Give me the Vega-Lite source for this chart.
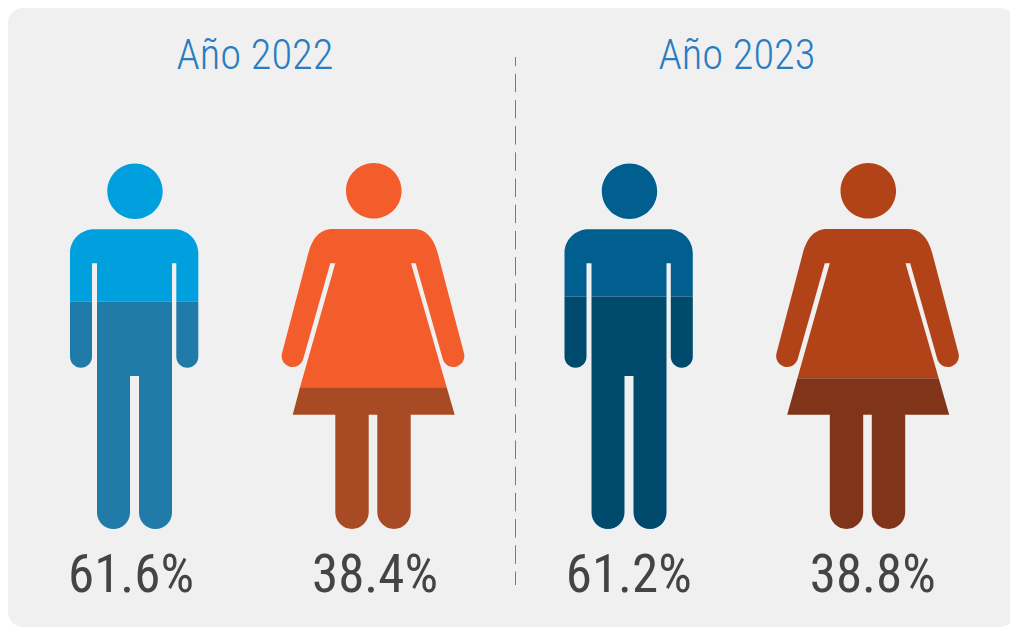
{
"$schema":"https://vega.github.io/schema/vega-lite/v6.json",
"width":1007,"height":619,
"autosize":{"type":"none"},
"padding":{"left":8,"top":8,"right":0,"bottom":0},
"background":"#ffffff",
"view":{"fill":"#f0f0f0","stroke":null,"cornerRadius":15},
"resolve":{"scale":{"x":"independent","y":"independent","xOffset":"independent","color":"independent","shape":"independent"}},
"layer":[
{"data":{"values":[{"capa":"divisor","a":"inicio","b":"fin"}]},
 "mark":{"type":"rule","color":"#7a7a7a","strokeWidth":1,"strokeDash":[18.5,7.7],"strokeDashOffset":9.5},
 "encoding":{
  "x":{"field":"capa","type":"nominal","axis":null,"scale":{"type":"point","padding":0,"domain":["divisor"],"range":[507.5,507.5]}},
  "y":{"field":"a","type":"nominal","axis":null,"scale":{"type":"point","padding":0,"domain":["inicio","fin"],"range":[49,577]}},
  "y2":{"field":"b"}}},
{"data":{"values":[{"capa":"titulo","anio":"Año 2022"},{"capa":"titulo","anio":"Año 2023"}]},
 "mark":{"type":"text","font":"Roboto Condensed, Liberation Sans Narrow, Roboto","fontSize":42.5,"fontWeight":300,"color":"#2a7cc2","align":"center","baseline":"middle"},
 "encoding":{
  "x":{"field":"anio","type":"nominal","axis":null,"scale":{"type":"point","padding":0,"domain":["Año 2022","Año 2023"],"range":[247,729]}},
  "y":{"field":"capa","type":"nominal","axis":null,"scale":{"type":"point","padding":0,"domain":["titulo"],"range":[48,48]}},
  "text":{"field":"anio"}}},
{"data":{"values":[
 {"capa":"icono","anio":"2022","genero":"Hombres","tramo":"superior","figura":"H22s","porcentaje":61.6},
 {"capa":"icono","anio":"2022","genero":"Hombres","tramo":"inferior","figura":"H22i","porcentaje":61.6},
 {"capa":"icono","anio":"2022","genero":"Mujeres","tramo":"superior","figura":"M22s","porcentaje":38.4},
 {"capa":"icono","anio":"2022","genero":"Mujeres","tramo":"inferior","figura":"M22i","porcentaje":38.4},
 {"capa":"icono","anio":"2023","genero":"Hombres","tramo":"superior","figura":"H23s","porcentaje":61.2},
 {"capa":"icono","anio":"2023","genero":"Hombres","tramo":"inferior","figura":"H23i","porcentaje":61.2},
 {"capa":"icono","anio":"2023","genero":"Mujeres","tramo":"superior","figura":"M23s","porcentaje":38.8},
 {"capa":"icono","anio":"2023","genero":"Mujeres","tramo":"inferior","figura":"M23i","porcentaje":38.8}
 ]},
 "mark":{"type":"point","filled":true,"opacity":1,"size":4,"strokeWidth":0},
 "encoding":{
  "x":{"field":"anio","type":"nominal","axis":null,"scale":{"type":"point","padding":0,"domain":["2022","2023"],"range":[245.75,740.25]}},
  "xOffset":{"field":"genero","type":"nominal","scale":{"type":"point","padding":0,"domain":["Hombres","Mujeres"],"range":[-119.25,119.25]}},
  "y":{"field":"capa","type":"nominal","axis":null,"scale":{"type":"point","padding":0,"domain":["icono"],"range":[338,338]}},
  "color":{"field":"figura","type":"nominal","legend":null,"scale":{"domain":["H22s","H22i","M22s","M22i","H23s","H23i","M23s","M23i"],"range":["#009fde","#217ba9","#f35d2b","#a84b24","#005f8f","#004a6e","#b24319","#80351a"]}},
  "shape":{"field":"figura","type":"nominal","legend":null,"scale":{"domain":["H22s","H22i","M22s","M22i","H23s","H23i","M23s","M23i"],"range":[
"M0.5 -182.4A27.7 27.7 0 1 1 0.5 -127A27.7 27.7 0 1 1 0.5 -182.4ZM-64.5 -44.3L-64.5 -92.7A24 24 0 0 1 -40.5 -116.7L39.8 -116.7A24 24 0 0 1 63.8 -92.7L63.8 -44.3L41.8 -44.3L41.8 -82.7L37.5 -82.7L37.5 -44.3L-37.5 -44.3L-37.5 -82.7L-42.5 -82.7L-42.5 -44.3Z",
"M-64.5 -44.3L-42.5 -44.3L-42.5 10.7A11 11 0 0 1 -64.5 10.7ZM41.8 -44.3L63.8 -44.3L63.8 10.7A11 11 0 0 1 41.8 10.7ZM-37.5 -44.3L37.5 -44.3L37.5 166.5A16.5 16.5 0 0 1 4.5 166.5L4.5 30L-4.5 30L-4.5 166.5A16.5 16.5 0 0 1 -37.5 166.5Z",
"M0.8 -183A27.8 27.8 0 1 1 0.8 -127.4A27.8 27.8 0 1 1 0.8 -183ZM-37.7 -82.7L-73 41.3L73.7 41.3L38 -82.7L42.7 -82.7L69.7 12.8A11 11 0 0 0 91 7.2L64.7 -93C60 -110 52 -117 40.3 -117L-39.7 -117C-52 -117 -60 -110 -64.7 -92.7L-91 7.2A11 11 0 0 0 -69.7 12.8L-42.7 -82.7Z",
"M-73 41.3L73.7 41.3L81.7 68.7L37.7 68.7L37.7 166.3A16.7 16.7 0 0 1 4.3 166.3L4.3 68.7L-4.3 68.7L-4.3 166.3A16.7 16.7 0 0 1 -37.7 166.3L-37.7 68.7L-80.3 68.7Z",
"M0.5 -182.4A27.7 27.7 0 1 1 0.5 -127A27.7 27.7 0 1 1 0.5 -182.4ZM-64.5 -49.5L-64.5 -92.7A24 24 0 0 1 -40.5 -116.7L39.8 -116.7A24 24 0 0 1 63.8 -92.7L63.8 -49.5L41.8 -49.5L41.8 -82.7L37.5 -82.7L37.5 -49.5L-37.5 -49.5L-37.5 -82.7L-42.5 -82.7L-42.5 -49.5Z",
"M-64.5 -49.5L-42.5 -49.5L-42.5 10.7A11 11 0 0 1 -64.5 10.7ZM41.8 -49.5L63.8 -49.5L63.8 10.7A11 11 0 0 1 41.8 10.7ZM-37.5 -49.5L37.5 -49.5L37.5 166.5A16.5 16.5 0 0 1 4.5 166.5L4.5 30L-4.5 30L-4.5 166.5A16.5 16.5 0 0 1 -37.5 166.5Z",
"M0.8 -183A27.8 27.8 0 1 1 0.8 -127.4A27.8 27.8 0 1 1 0.8 -183ZM-37.7 -82.7L-70.1 32.3L71.2 32.3L38 -82.7L42.7 -82.7L69.7 12.8A11 11 0 0 0 91 7.2L64.7 -93C60 -110 52 -117 40.3 -117L-39.7 -117C-52 -117 -60 -110 -64.7 -92.7L-91 7.2A11 11 0 0 0 -69.7 12.8L-42.7 -82.7Z",
"M-70.1 32.3L71.2 32.3L81.7 68.7L37.7 68.7L37.7 166.3A16.7 16.7 0 0 1 4.3 166.3L4.3 68.7L-4.3 68.7L-4.3 166.3A16.7 16.7 0 0 1 -37.7 166.3L-37.7 68.7L-80.3 68.7Z"
]}}}},
{"data":{"values":[
 {"capa":"porcentaje","anio":"2022","genero":"Hombres","etiqueta":"61.6%"},
 {"capa":"porcentaje","anio":"2022","genero":"Mujeres","etiqueta":"38.4%"},
 {"capa":"porcentaje","anio":"2023","genero":"Hombres","etiqueta":"61.2%"},
 {"capa":"porcentaje","anio":"2023","genero":"Mujeres","etiqueta":"38.8%"}
 ]},
 "mark":{"type":"text","font":"Roboto Condensed, Liberation Sans Narrow, Roboto","fontSize":53,"fontWeight":400,"color":"#444444","align":"center","baseline":"middle"},
 "encoding":{
  "x":{"field":"anio","type":"nominal","axis":null,"scale":{"type":"point","padding":0,"domain":["2022","2023"],"range":[245,742.75]}},
  "xOffset":{"field":"genero","type":"nominal","scale":{"type":"point","padding":0,"domain":["Hombres","Mujeres"],"range":[-122,122]}},
  "y":{"field":"capa","type":"nominal","axis":null,"scale":{"type":"point","padding":0,"domain":["porcentaje"],"range":[567.5,567.5]}},
  "text":{"field":"etiqueta"}}}
]}
